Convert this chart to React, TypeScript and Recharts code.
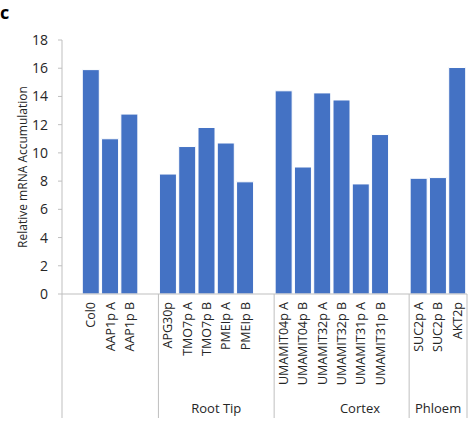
import React from "react";
import { BarChart, Bar, XAxis, YAxis } from "recharts";

// ---- data ----
const categories: string[] = [
  "", "Col0", "AAP1p A", "AAP1p B",
  "", "APG30p", "TMO7p A", "TMO7p B", "PMEIp A", "PMEIp B",
  "", "UMAMIT04p A", "UMAMIT04p B", "UMAMIT32p A", "UMAMIT32p B", "UMAMIT31p A", "UMAMIT31p B",
  "", "SUC2p A", "SUC2p B", "AKT2p",
];
const values: (number | null)[] = [
  null, 15.9, 11.0, 12.75,
  null, 8.5, 10.45, 11.8, 10.7, 7.95,
  null, 14.4, 9.0, 14.25, 13.75, 7.8, 11.3,
  null, 8.2, 8.25, 16.05,
];
const yTicks = [0, 2, 4, 6, 8, 10, 12, 14, 16, 18];
const groupNames = ["", "Root Tip", "Cortex", "Phloem"];
const groupStarts = [0, 5, 11, 18];
const groupLabelAt = [2.5, 8, 15.45, 19.5];
const yLabel = "Relative mRNA Accumulation";
const panelLetter = "c";

// ---- derived ----
const data = categories.map((c, i) => ({ key: `s${i}`, label: c, value: values[i], pos: i + 0.5 }));
const labelByKey: Record<string, string> = {};
data.forEach((d) => (labelByKey[d.key] = d.label));
const slotCount = categories.length;
const boundaries = [...groupStarts, slotCount];
const groupTicks = [...boundaries, ...groupLabelAt];

// ---- style ----
const FONT = "'Open Sans', sans-serif";
const TEXT = "#262626";
const AXIS = "#BFBFBF";
const BAR = "#4472C4";
const CAT_H = 100;
const GRP_H = 29;

const CategoryTick = (props: any) => {
  const { x, y, payload } = props;
  const label = labelByKey[payload.value] ?? "";
  return (
    <text
      x={x}
      y={y}
      transform={`rotate(-90, ${x}, ${y})`}
      textAnchor="end"
      dy="0.35em"
      fontFamily={FONT}
      fontSize={12.5}
      fill={TEXT}
    >
      {label}
    </text>
  );
};

const GroupTick = (props: any) => {
  const { x, y, payload } = props;
  const v = payload.value;
  const bi = boundaries.indexOf(v);
  if (bi >= 0) {
    return <line x1={x} x2={x} y1={y - CAT_H} y2={y + 24} stroke={AXIS} strokeWidth={1} />;
  }
  const gi = groupLabelAt.indexOf(v);
  const name = gi >= 0 ? groupNames[gi] : "";
  return (
    <text x={x} y={y + 19} textAnchor="middle" fontFamily={FONT} fontSize={13} fill={TEXT}>
      {name}
    </text>
  );
};

const YLabel = (props: any) => {
  const vb = props.viewBox || {};
  const cx = (vb.x ?? 0) + 22.5;
  const cy = (vb.y ?? 0) + (vb.height ?? 0) / 2;
  return (
    <text
      x={cx}
      y={cy}
      transform={`rotate(-90, ${cx}, ${cy})`}
      textAnchor="middle"
      dy="0.35em"
      fontFamily={FONT}
      fontSize={12}
      fill={TEXT}
    >
      {yLabel}
    </text>
  );
};

export default function App() {
  return (
    <div style={{ position: "absolute", left: 0, top: 0, width: 474, height: 423, background: "#fff" }}>
      <div
        style={{
          position: "absolute",
          left: 0,
          top: 0,
          fontFamily: FONT,
          fontWeight: 700,
          fontSize: 18,
          lineHeight: "24px",
          color: "#000",
        }}
      >
        {panelLetter}
      </div>
      <BarChart
        width={474}
        height={423}
        data={data}
        margin={{ top: 40, right: 7, left: 0, bottom: 0 }}
        barCategoryGap={1}
      >
        <XAxis
          dataKey="key"
          type="category"
          interval={0}
          height={CAT_H}
          axisLine={{ stroke: AXIS }}
          tickLine={false}
          tick={<CategoryTick />}
        />
        <XAxis
          xAxisId="grp"
          dataKey="pos"
          type="number"
          domain={[0, slotCount]}
          allowDataOverflow
          ticks={groupTicks}
          interval={0}
          height={GRP_H}
          axisLine={false}
          tickLine={false}
          tickSize={0}
          tickMargin={0}
          tick={<GroupTick />}
        />
        <YAxis
          width={62}
          domain={[0, 18]}
          ticks={yTicks}
          interval={0}
          axisLine={{ stroke: AXIS }}
          tickLine={{ stroke: AXIS }}
          tickSize={4}
          tickMargin={10}
          tick={{ fontFamily: FONT, fontSize: 14, fill: TEXT }}
          label={(p: any) => <YLabel {...p} />}
        />
        <Bar dataKey="value" fill={BAR} stroke="#ffffff" strokeWidth={1} isAnimationActive={false} />
      </BarChart>
    </div>
  );
}
